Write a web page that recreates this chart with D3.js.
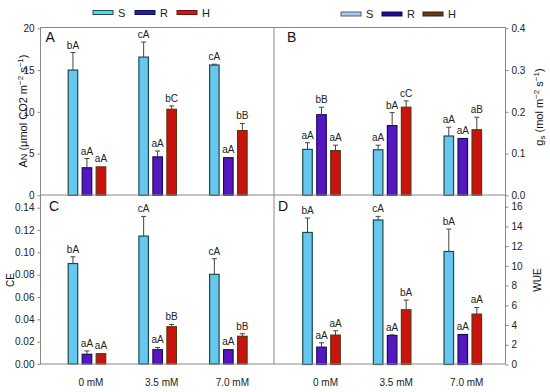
<!DOCTYPE html>
<html>
<head>
<meta charset="utf-8">
<script src="https://cdn.jsdelivr.net/npm/d3@7"></script>
<style>
  body { margin: 0; background: #fff; }
  svg { font-family: "Liberation Sans", Arial, sans-serif; }
</style>
</head>
<body>
<div id="chart"></div>
<script>
// categories
const groups = ["0 mM", "3.5 mM", "7.0 mM"];
const series = ["S", "R", "H"];

// A: net photosynthesis AN
const anS = [15.0, 16.55, 15.6];
const anR = [3.3, 4.6, 4.5];
const anH = [3.4, 10.3, 7.75];
const anErrS = [2.1, 1.8, 0.1];
const anErrR = [1.1, 0.7, 0];
const anErrH = [0, 0.4, 0.85];
const anLabS = ["bA", "cA", "cA"];
const anLabR = ["aA", "aA", "aA"];
const anLabH = ["aA", "bC", "bB"];

// B: stomatal conductance gs
const gsS = [0.110, 0.109, 0.142];
const gsR = [0.193, 0.167, 0.136];
const gsH = [0.107, 0.211, 0.157];
const gsErrS = [0.016, 0.011, 0.021];
const gsErrR = [0.018, 0.031, 0];
const gsErrH = [0.013, 0.015, 0.030];
const gsLabS = ["aA", "aA", "aA"];
const gsLabR = ["bB", "bA", "aA"];
const gsLabH = ["aA", "cC", "aB"];

// C: CE
const ceS = [0.090, 0.1146, 0.0803];
const ceR = [0.0087, 0.0128, 0.0128];
const ceH = [0.0092, 0.0334, 0.0248];
const ceErrS = [0.006, 0.0176, 0.014];
const ceErrR = [0.003, 0.002, 0];
const ceErrH = [0, 0.002, 0.0023];
const ceLabS = ["bA", "cA", "cA"];
const ceLabR = ["aA", "aA", "aA"];
const ceLabH = ["aA", "bB", "bB"];

// D: WUE
const wueS = [13.39, 14.65, 11.46];
const wueR = [1.76, 2.94, 3.04];
const wueH = [2.98, 5.55, 5.11];
const wueErrS = [1.46, 0.37, 2.27];
const wueErrR = [0.44, 0.07, 0];
const wueErrH = [0.44, 0.98, 0.67];
const wueLabS = ["bA", "cA", "bA"];
const wueLabR = ["aA", "aA", "aA"];
const wueLabH = ["aA", "bA", "aA"];

// tick values
const anTicks = [0, 5, 10, 15, 20];
const gsTicks = [0, 0.1, 0.2, 0.3, 0.4];
const ceTicks = [0, 0.02, 0.04, 0.06, 0.08, 0.10, 0.12, 0.14];
const wueTicks = [0, 2, 4, 6, 8, 10, 12, 14, 16];

const fills = { S: "#66c8ef", R: "#5518c0", H: "#c8140c" };
const strokes = { S: "#1d4a4a", R: "#1a0c5c", H: "#5e3412" };

const W = 550, H = 392;
const fLeft = 40.5, fMid = 274, fRight = 505.5;
const fTop = 27.5, fHmid = 195, fBottom = 364;

const svg = d3.select("#chart").append("svg")
  .attr("width", W).attr("height", H);

// inner band for S/R/H around group center
const inner = d3.scaleBand().domain(series).range([-21, 21])
  .paddingInner(0.32).paddingOuter(0.16);

function drawPanel(p) {
  const g = svg.append("g");
  const x = d3.scalePoint().domain(groups).range(p.xRange).padding(0.65);
  const y = d3.scaleLinear().domain(p.yDomain).range(p.yRange);

  const rows = [];
  series.forEach((s, si) => {
    groups.forEach((grp, gi) => {
      rows.push({ s: s, grp: grp, v: p.vals[si][gi], e: p.errs[si][gi], lab: p.labs[si][gi] });
    });
  });

  // bars
  g.selectAll("rect.bar").data(rows).enter().append("rect")
    .attr("class", "bar")
    .attr("x", d => x(d.grp) + inner(d.s))
    .attr("y", d => y(d.v))
    .attr("width", inner.bandwidth())
    .attr("height", d => y(0) - y(d.v))
    .attr("fill", d => fills[d.s])
    .attr("stroke", d => strokes[d.s])
    .attr("stroke-width", 1.2);

  // error bars (upper only)
  const eb = rows.filter(d => d.e > 0);
  g.selectAll("line.err").data(eb).enter().append("line")
    .attr("x1", d => x(d.grp) + inner(d.s) + inner.bandwidth() / 2)
    .attr("x2", d => x(d.grp) + inner(d.s) + inner.bandwidth() / 2)
    .attr("y1", d => y(d.v))
    .attr("y2", d => y(d.v + d.e))
    .attr("stroke", "#444").attr("stroke-width", 1);
  g.selectAll("line.cap").data(eb).enter().append("line")
    .attr("x1", d => x(d.grp) + inner(d.s) + inner.bandwidth() / 2 - 2.5)
    .attr("x2", d => x(d.grp) + inner(d.s) + inner.bandwidth() / 2 + 2.5)
    .attr("y1", d => y(d.v + d.e))
    .attr("y2", d => y(d.v + d.e))
    .attr("stroke", "#444").attr("stroke-width", 1);

  // letters over bars
  g.selectAll("text.lab").data(rows).enter().append("text")
    .attr("x", d => x(d.grp) + inner(d.s) + inner.bandwidth() / 2)
    .attr("y", d => y(d.v + d.e) - (d.e > 0 ? 4 : 5))
    .attr("text-anchor", "middle")
    .attr("font-size", 10).attr("fill", "#222")
    .text(d => d.lab);

  // y axis
  const axis = (p.side === "left" ? d3.axisLeft(y) : d3.axisRight(y))
    .tickValues(p.ticks).tickFormat(d3.format(p.fmt))
    .tickSize(3).tickPadding(3).tickSizeOuter(0);
  const ax = svg.append("g")
    .attr("transform", "translate(" + p.axisX + ",0)")
    .call(axis);
  ax.select(".domain").remove();
  ax.selectAll("line").attr("stroke", "#888");
  ax.selectAll("text").attr("font-size", 10).attr("fill", "#222")
    .attr("font-family", "Liberation Sans, Arial, sans-serif");

  // panel letter
  svg.append("text").attr("x", p.letterPos[0]).attr("y", p.letterPos[1])
    .attr("font-size", 14).attr("fill", "#111").text(p.letter);

  // x labels
  if (p.xLabels) {
    groups.forEach(grp => {
      svg.append("text")
        .attr("x", x(grp) + 4).attr("y", 386)
        .attr("text-anchor", "middle")
        .attr("font-size", 10).attr("fill", "#222")
        .text(grp);
    });
  }
}

drawPanel({
  letter: "A", letterPos: [45.5, 42], side: "left", axisX: fLeft,
  xRange: [41, 274.3], yDomain: [0, 20], yRange: [195.3, 28.3],
  ticks: anTicks, fmt: "d",
  vals: [anS, anR, anH], errs: [anErrS, anErrR, anErrH], labs: [anLabS, anLabR, anLabH]
});
drawPanel({
  letter: "B", letterPos: [287, 42], side: "right", axisX: fRight,
  xRange: [275.6, 508.7], yDomain: [0, 0.4], yRange: [195.3, 28.3],
  ticks: gsTicks, fmt: ".1f",
  vals: [gsS, gsR, gsH], errs: [gsErrS, gsErrR, gsErrH], labs: [gsLabS, gsLabR, gsLabH]
});
drawPanel({
  letter: "C", letterPos: [49, 211], side: "left", axisX: fLeft,
  xRange: [41, 274.3], yDomain: [0, 0.14], yRange: [364, 207.7],
  ticks: ceTicks, fmt: ".2f", xLabels: true,
  vals: [ceS, ceR, ceH], errs: [ceErrS, ceErrR, ceErrH], labs: [ceLabS, ceLabR, ceLabH]
});
drawPanel({
  letter: "D", letterPos: [278, 211], side: "right", axisX: fRight,
  xRange: [275.6, 508.7], yDomain: [0, 16], yRange: [364.5, 206.7],
  ticks: wueTicks, fmt: "d", xLabels: true,
  vals: [wueS, wueR, wueH], errs: [wueErrS, wueErrR, wueErrH], labs: [wueLabS, wueLabR, wueLabH]
});

// frame
const frame = svg.append("g").attr("stroke", "#888").attr("stroke-width", 1).attr("fill", "none");
frame.append("rect").attr("x", fLeft).attr("y", fTop).attr("width", fRight - fLeft).attr("height", fBottom - fTop);
frame.append("line").attr("x1", fMid).attr("x2", fMid).attr("y1", fTop).attr("y2", fBottom);
frame.append("line").attr("x1", fLeft).attr("x2", fRight).attr("y1", fHmid).attr("y2", fHmid);

// axis titles
const t1 = svg.append("text").attr("transform", "translate(27,111) rotate(-90)")
  .attr("text-anchor", "middle").attr("font-size", 11).attr("fill", "#111");
t1.append("tspan").text("A");
t1.append("tspan").attr("font-size", 9).text("N");
t1.append("tspan").text(" (\u03bcmol CO2 m");
t1.append("tspan").attr("font-size", 8).attr("dy", -4).text("\u22122");
t1.append("tspan").attr("dy", 4).text(" s");
t1.append("tspan").attr("font-size", 8).attr("dy", -4).text("\u22121");
t1.append("tspan").attr("dy", 4).text(")");

const t2 = svg.append("text").attr("transform", "translate(543,107) rotate(-90)")
  .attr("text-anchor", "middle").attr("font-size", 11).attr("fill", "#111");
t2.append("tspan").text("g");
t2.append("tspan").attr("font-size", 8).attr("dy", 2).text("s");
t2.append("tspan").attr("dy", -2).text(" (mol m");
t2.append("tspan").attr("font-size", 8).attr("dy", -4).text("\u22122");
t2.append("tspan").attr("dy", 4).text(" s");
t2.append("tspan").attr("font-size", 8).attr("dy", -4).text("\u22121");
t2.append("tspan").attr("dy", 4).text(")");

svg.append("text").attr("transform", "translate(14,280) rotate(-90)")
  .attr("text-anchor", "middle").attr("font-size", 10).attr("fill", "#111").text("CE");
svg.append("text").attr("transform", "translate(541,280) rotate(-90)")
  .attr("text-anchor", "middle").attr("font-size", 10).attr("fill", "#111").text("WUE");

// legends
const legLeftFill = ["#3fe0f0", "#2020a0", "#c81818"];
const legLeftStroke = ["#2a4a50", "#101060", "#701010"];
const legRightFill = ["#a8c8f0", "#1c0c8c", "#6a3810"];
const legRightStroke = ["#506070", "#100850", "#3a2008"];

function legend(x0, y0, fillsArr, strokesArr, gap) {
  const lg = svg.append("g").attr("transform", "translate(" + x0 + "," + y0 + ")");
  series.forEach((s, i) => {
    const gx = i * gap;
    lg.append("rect").attr("x", gx).attr("y", -2).attr("width", 20).attr("height", 4)
      .attr("fill", fillsArr[i]).attr("stroke", strokesArr[i]).attr("stroke-width", 1);
    lg.append("text").attr("x", gx + 25).attr("y", 4).attr("font-size", 11)
      .attr("fill", "#222").text(s);
  });
}
legend(93, 12.5, legLeftFill, legLeftStroke, 42);
legend(341, 14, legRightFill, legRightStroke, 41);
</script>
</body>
</html>
